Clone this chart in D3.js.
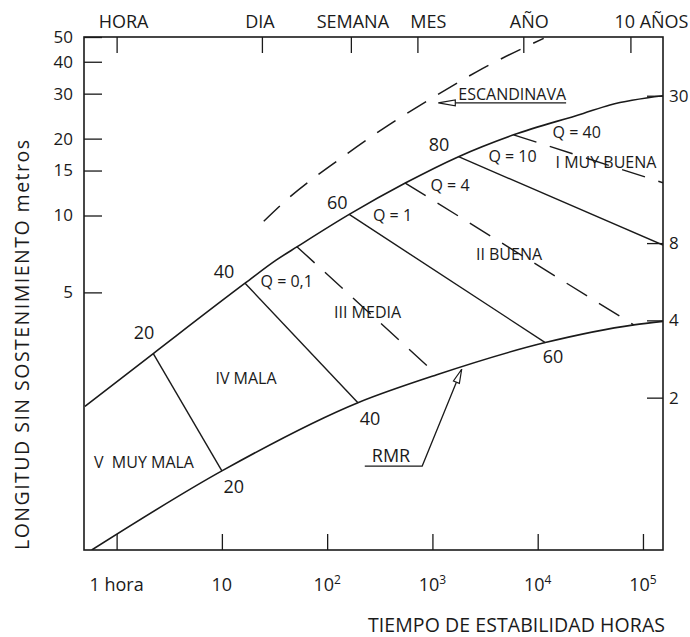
<!DOCTYPE html>
<html>
<head>
<meta charset="utf-8">
<script src="https://cdn.jsdelivr.net/npm/d3@7"></script>
<style>
  body { margin: 0; background: #fff; }
  svg text { font-family: "Open Sans", sans-serif; fill: #1a1a1a; }
</style>
</head>
<body>
<svg id="chart" width="690" height="637"></svg>
<script>
// Values: x = hours, y = metres
const upperHours = [0.5, 2.23, 16.6, 33, 52, 162, 552, 1770, 5900, 27100, 48600, 155000];
const upperMetres = [1.79, 2.88, 5.43, 6.7, 7.55, 10.1, 13.4, 17.0, 20.7, 25.1, 27.1, 29.45];
const lowerHours = [0.58, 10, 196, 1100, 11800, 82000, 155000];
const lowerMetres = [0.49, 1.0, 1.85, 2.38, 3.18, 3.73, 3.85];
const scandHours = [25, 41, 128, 383, 1100, 2650, 11400];
const scandMetres = [9.5, 11.5, 16.5, 22.6, 29.6, 36.6, 49.4];

// RMR contour lines (solid), from the upper to the lower boundary
const rmrFromHours = [2.23, 16.6, 162, 1770];
const rmrFromMetres = [2.88, 5.43, 10.1, 17.0];
const rmrToHours = [10, 196, 11800, 155000];
const rmrToMetres = [1.0, 1.85, 3.18, 7.66];

// Q lines (dashed): 0,1 - 4 - 40
const qFromHours = [51.6, 552, 5900];
const qFromMetres = [7.55, 13.4, 20.7];
const qToHours = [1104, 81700, 155000];
const qToMetres = [2.38, 3.73, 13.44];

// labels
const rmrLabels = ['20', '40', '60', '80', '20', '40', '60'];
const rmrLabelHours = [1.82, 10.5, 125, 1155, 13.0, 255, 13980];
const rmrLabelMetres = [3.28, 5.69, 10.65, 17.9, 0.82, 1.51, 2.65];

const qLabels = ['Q = 0,1', 'Q = 1', 'Q = 4', 'Q = 10', 'Q = 40'];
const qLabelHours = [41.3, 418, 1469, 5763, 23480];
const qLabelMetres = [5.25, 9.52, 12.47, 16.13, 20.2];

const classLabels = ['I MUY BUENA', 'II BUENA', 'III MEDIA', 'IV MALA', 'V  MUY MALA'];
const classHours = [44560, 5339, 242, 16.95, 1.82];
const classMetres = [15.35, 6.72, 3.97, 2.19, 1.026];

// axes
const leftTicks = [50, 40, 30, 20, 15, 10, 5];
const rightTicks = [30, 8, 4, 2];
const bottomTicks = [1, 10, 100, 1000, 10000, 100000];
const bottomBase = ['1 hora', '10', '10', '10', '10', '10'];
const bottomSup = ['', '', '2', '3', '4', '5'];
const topTickHours = [1, 24, 168, 720, 7300, 76000];
const topTickLabels = ['HORA', 'DIA', 'SEMANA', 'MES', 'AÑO', '10 AÑOS'];
const topLabelShift = [7, -2, 2, 11, 6, 21]; // labels sit a little right of their ticks

const scandArrowTip = [1137, 27.6];
const rmrArrowTip = [1897, 2.5];
const rmrTextAt = [404, 1.088];

const W = 690, H = 637;
const margin = { top: 37, right: 27, bottom: 87, left: 84 };
const x0 = margin.left, x1 = W - margin.right;
const y0 = H - margin.bottom, y1 = margin.top;
const ink = '#1a1a1a';

const svg = d3.select('#chart');

const x = d3.scaleLog().domain([0.49, 1.55e5]).range([x0, x1]);
const y = d3.scaleLog().domain([0.49, 50]).range([y0, y1]);
const yR = d3.scaleLog().domain([0.51, 50.8]).range([y0, y1]); // right scale is drawn a touch off

const zip = (a, b) => a.map((v, i) => [v, b[i]]);
const line = d3.line().x(d => x(d[0])).y(d => y(d[1])).curve(d3.curveMonotoneX);

svg.append('clipPath').attr('id', 'plot')
  .append('rect').attr('x', x0).attr('y', y1).attr('width', x1 - x0).attr('height', y0 - y1);

const styleAxis = (g, size) => {
  g.select('.domain').remove();
  g.attr('font-family', null).attr('font-size', null);
  g.selectAll('line').attr('stroke', ink).attr('stroke-width', 1.3);
  g.selectAll('text').attr('font-size', size).attr('fill', ink);
};

// Left axis
svg.append('g')
  .attr('transform', `translate(${x0},0)`)
  .call(d3.axisLeft(y).tickValues(leftTicks).tickFormat(d3.format('d')).tickSize(-18).tickPadding(11))
  .call(g => styleAxis(g, 17));

// Right axis
svg.append('g')
  .attr('transform', `translate(${x1},0)`)
  .call(d3.axisRight(yR).tickValues(rightTicks).tickFormat(d3.format('d')).tickSize(-16).tickPadding(6))
  .call(g => styleAxis(g, 17));

// Bottom axis (ticks only, labels with superscripts below)
svg.append('g')
  .attr('transform', `translate(0,${y0})`)
  .call(d3.axisBottom(x).tickValues(bottomTicks).tickFormat('').tickSize(-16))
  .call(g => styleAxis(g, 17));

svg.append('g').selectAll('text')
  .data(bottomTicks)
  .join('text')
  .attr('x', d => x(d))
  .attr('y', y0 + 41)
  .attr('text-anchor', 'middle')
  .attr('font-size', 18)
  .each(function (d, i) {
    const t = d3.select(this);
    t.append('tspan').text(bottomBase[i]);
    if (bottomSup[i]) t.append('tspan').attr('font-size', 12).attr('dy', -7).text(bottomSup[i]);
  });

// Top axis
svg.append('g')
  .attr('transform', `translate(0,${y1})`)
  .call(d3.axisTop(x).tickValues(topTickHours).tickFormat('').tickSize(-16))
  .call(g => styleAxis(g, 17));

svg.append('g').selectAll('text')
  .data(topTickHours)
  .join('text')
  .attr('x', (d, i) => x(d) + topLabelShift[i])
  .attr('y', 28)
  .attr('text-anchor', 'middle')
  .attr('font-size', 18)
  .text((d, i) => topTickLabels[i]);

// Frame
svg.append('rect')
  .attr('x', x0).attr('y', y1)
  .attr('width', x1 - x0).attr('height', y0 - y1)
  .attr('fill', 'none').attr('stroke', ink).attr('stroke-width', 1.6);

const plot = svg.append('g').attr('clip-path', 'url(#plot)')
  .attr('fill', 'none').attr('stroke', ink);

// RMR boundaries
plot.append('path').attr('d', line(zip(upperHours, upperMetres))).attr('stroke-width', 1.6);
plot.append('path').attr('d', line(zip(lowerHours, lowerMetres))).attr('stroke-width', 1.6);

// Scandinavian curve
plot.append('path').attr('d', line(zip(scandHours, scandMetres)))
  .attr('stroke-width', 1.5).attr('stroke-dasharray', '22,14');

// RMR contours
plot.selectAll('.rmr')
  .data(rmrFromHours)
  .join('line')
  .attr('x1', (d, i) => x(rmrFromHours[i])).attr('y1', (d, i) => y(rmrFromMetres[i]))
  .attr('x2', (d, i) => x(rmrToHours[i])).attr('y2', (d, i) => y(rmrToMetres[i]))
  .attr('stroke-width', 1.4);

// Q lines
plot.selectAll('.q')
  .data(qFromHours)
  .join('line')
  .attr('x1', (d, i) => x(qFromHours[i])).attr('y1', (d, i) => y(qFromMetres[i]))
  .attr('x2', (d, i) => x(qToHours[i])).attr('y2', (d, i) => y(qToMetres[i]))
  .attr('stroke-width', 1.4).attr('stroke-dasharray', '24,14');

// Text labels
const addLabels = (texts, hrs, mts, size) => svg.append('g').selectAll('text')
  .data(texts)
  .join('text')
  .attr('x', (d, i) => x(hrs[i]))
  .attr('y', (d, i) => y(mts[i]))
  .attr('text-anchor', 'middle')
  .attr('font-size', size)
  .style('white-space', 'pre')
  .text(d => d);

addLabels(rmrLabels, rmrLabelHours, rmrLabelMetres, 18);
addLabels(qLabels, qLabelHours, qLabelMetres, 16);
addLabels(classLabels, classHours, classMetres, 16);

// open triangle arrowhead at tip, pointing along angle
const arrowHead = (tx, ty, ang, len, half) => {
  const bx = tx - len * Math.cos(ang), by = ty - len * Math.sin(ang);
  const nx = -Math.sin(ang) * half, ny = Math.cos(ang) * half;
  return `M${tx},${ty}L${bx + nx},${by + ny}L${bx - nx},${by - ny}Z`;
};

// ESCANDINAVA annotation
{
  const tx = x(scandArrowTip[0]), ty = y(scandArrowTip[1]);
  const label = svg.append('text')
    .attr('x', tx + 20).attr('y', ty - 2.5)
    .attr('font-size', 16)
    .text('ESCANDINAVA');
  const end = tx + 20 + label.node().getComputedTextLength();
  svg.append('line').attr('x1', tx + 16).attr('y1', ty).attr('x2', end).attr('y2', ty)
    .attr('stroke', ink).attr('stroke-width', 1.3);
  svg.append('path').attr('d', arrowHead(tx, ty, Math.PI, 17, 3))
    .attr('fill', '#fff').attr('stroke', ink).attr('stroke-width', 1.2);
}

// RMR annotation
{
  const cx = x(rmrTextAt[0]), cy = y(rmrTextAt[1]);
  const label = svg.append('text')
    .attr('x', cx).attr('y', cy)
    .attr('text-anchor', 'middle')
    .attr('font-size', 18)
    .text('RMR');
  const w = label.node().getComputedTextLength();
  const ux0 = cx - w / 2 - 7, ux1 = cx + w / 2 + 12, uy = cy + 4.5;
  const tx = x(rmrArrowTip[0]), ty = y(rmrArrowTip[1]);
  svg.append('path')
    .attr('d', `M${ux0},${uy}L${ux1},${uy}L${tx},${ty}`)
    .attr('fill', 'none').attr('stroke', ink).attr('stroke-width', 1.3);
  const ang = Math.atan2(ty - uy, tx - ux1);
  svg.append('path').attr('d', arrowHead(tx, ty, ang, 14, 3.2))
    .attr('fill', '#fff').attr('stroke', ink).attr('stroke-width', 1.2);
}

// Axis titles (spread a little, as in the original)
svg.append('text')
  .attr('x', 368).attr('y', 632)
  .attr('font-size', 19.5)
  .attr('textLength', 297)
  .attr('lengthAdjust', 'spacing')
  .text('TIEMPO DE ESTABILIDAD HORAS');

svg.append('text')
  .attr('transform', 'translate(29,345) rotate(-90)')
  .attr('x', -205)
  .attr('font-size', 19.5)
  .attr('textLength', 410)
  .attr('lengthAdjust', 'spacing')
  .text('LONGITUD SIN SOSTENIMIENTO metros');
</script>
</body>
</html>
